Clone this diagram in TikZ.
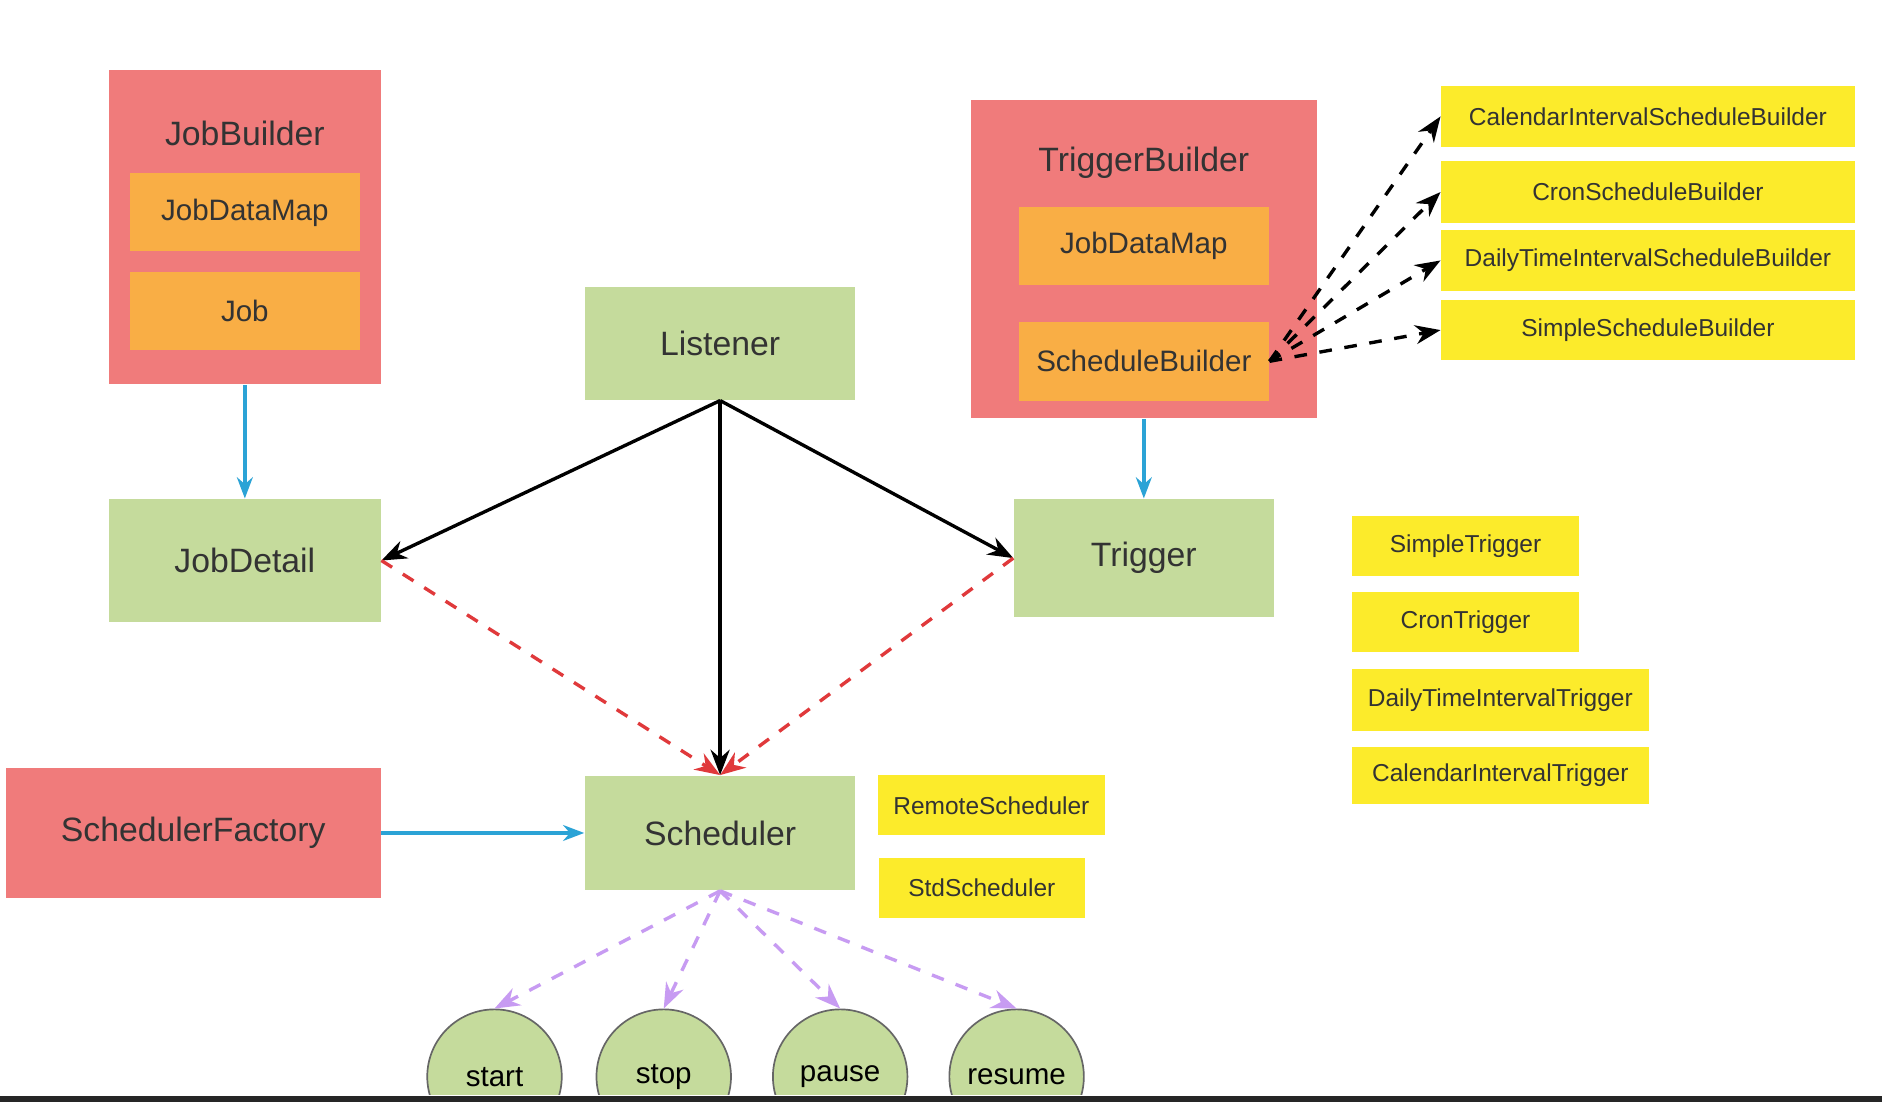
\documentclass[tikz,border=0pt]{standalone}
\usepackage{fontspec}
\setmainfont{Liberation Sans}
\usetikzlibrary{arrows.meta}
\definecolor{redbox}{HTML}{F07B7B}
\definecolor{orangebox}{HTML}{F9AE45}
\definecolor{greenbox}{HTML}{C5DB9C}
\definecolor{yellowbox}{HTML}{FCEB2B}
\definecolor{bluearrow}{HTML}{2BA3D6}
\definecolor{purplearrow}{HTML}{C79BF2}
\definecolor{reddash}{HTML}{E0393B}
\begin{document}
\begin{tikzpicture}[x=0.01cm,y=0.01cm,
  box/.style={draw=none,inner sep=0pt,text=black!80,font=\fontsize{8}{9}\selectfont},
  red node/.style={box,fill=redbox},
  orange node/.style={box,fill=orangebox,font=\fontsize{7}{8}\selectfont},
  green node/.style={box,fill=greenbox},
  yellow node/.style={box,fill=yellowbox,font=\fontsize{5.8}{7}\selectfont},
  op node/.style={circle,draw=black!60,fill=greenbox,minimum size=1.12cm,inner sep=0pt,font=\fontsize{7}{8}\selectfont},
  blue edge/.style={-{Stealth[length=5pt]},draw=bluearrow,thick},
  use edge/.style={-{Stealth[length=6pt]},draw=black,thick},
  red edge/.style={-{Stealth[length=6pt]},draw=reddash,thick,dashed},
  build edge/.style={-{Stealth[length=6pt]},draw=black,thick,dashed},
  op edge/.style={-{Stealth[length=6pt]},draw=purplearrow,thick,dashed}]
  \useasboundingbox (0,0) rectangle (1568,-918);
  \fill[white] (0,0) rectangle (1568,-918);
  % job side
  \node[red node,minimum width=2.26cm,minimum height=2.62cm] (jb) at (204,-189) {};
  \node[box] (jbt) at (204,-111) {JobBuilder};
  \node[orange node,minimum width=1.92cm,minimum height=0.65cm] (jdm) at (204,-177) {JobDataMap};
  \node[orange node,minimum width=1.92cm,minimum height=0.65cm] (job) at (204,-259) {Job};
  \node[green node,minimum width=2.26cm,minimum height=1.02cm] (jd) at (204,-467) {JobDetail};
  \node[green node,minimum width=2.25cm,minimum height=0.94cm] (lis) at (600,-286) {Listener};
  % trigger side
  \node[red node,minimum width=2.88cm,minimum height=2.65cm] (tb) at (953,-216) {};
  \node[box] (tbt) at (953,-136) {TriggerBuilder};
  \node[orange node,minimum width=2.08cm,minimum height=0.65cm] (tdm) at (953,-205) {JobDataMap};
  \node[orange node,minimum width=2.08cm,minimum height=0.66cm] (sb) at (953,-301) {ScheduleBuilder};
  \node[green node,minimum width=2.16cm,minimum height=0.98cm] (tr) at (953,-465) {Trigger};
  \node[yellow node,minimum width=3.44cm,minimum height=0.51cm] (csb) at (1373,-97) {CalendarIntervalScheduleBuilder};
  \node[yellow node,minimum width=3.44cm,minimum height=0.51cm] (crsb) at (1373,-160) {CronScheduleBuilder};
  \node[yellow node,minimum width=3.44cm,minimum height=0.51cm] (dsb) at (1373,-217) {DailyTimeIntervalScheduleBuilder};
  \node[yellow node,minimum width=3.44cm,minimum height=0.50cm] (ssb) at (1373,-275) {SimpleScheduleBuilder};
  \node[yellow node,minimum width=1.89cm,minimum height=0.50cm] (st) at (1221,-455) {SimpleTrigger};
  \node[yellow node,minimum width=1.89cm,minimum height=0.50cm] (ct) at (1221,-518) {CronTrigger};
  \node[yellow node,minimum width=2.47cm,minimum height=0.52cm] (dt) at (1250,-583) {DailyTimeIntervalTrigger};
  \node[yellow node,minimum width=2.47cm,minimum height=0.48cm] (cat) at (1250,-646) {CalendarIntervalTrigger};
  % scheduler
  \node[red node,minimum width=3.12cm,minimum height=1.08cm] (sf) at (161,-694) {SchedulerFactory};
  \node[green node,minimum width=2.25cm,minimum height=0.95cm] (sch) at (600,-694) {Scheduler};
  \node[yellow node,minimum width=1.89cm,minimum height=0.50cm] (rs) at (826,-671) {RemoteScheduler};
  \node[yellow node,minimum width=1.72cm,minimum height=0.50cm] (ss) at (818,-740) {StdScheduler};
  \begin{scope}
    \clip (0,0) rectangle (1568,-912);
    \node[op node] (start) at (412,-897) {start};
    \node[op node] (stop) at (553,-897) {stop};
    \node[op node] (pause) at (700,-897) {pause};
    \node[op node] (resume) at (847,-897) {resume};
  \end{scope}
  \fill[black!85] (0,-913) rectangle (1568,-918);

  \draw[blue edge] (jb.south) -- (jd.north);
  \draw[blue edge] (tb.south) -- (tr.north);
  \draw[blue edge] (sf.east) -- (sch.west);
  \draw[use edge] (lis.south) -- (jd.east);
  \draw[use edge] (lis.south) -- (tr.west);
  \draw[use edge] (lis.south) -- (sch.north);
  \draw[red edge] (jd.east) -- (sch.north);
  \draw[red edge] (tr.west) -- (sch.north);
  \foreach \b in {csb,crsb,dsb,ssb}
    \draw[build edge] (sb.east) -- (\b.west);
  \foreach \o in {start,stop,pause,resume}
    \draw[op edge] (sch.south) -- (\o.north);
\end{tikzpicture}
\end{document}
